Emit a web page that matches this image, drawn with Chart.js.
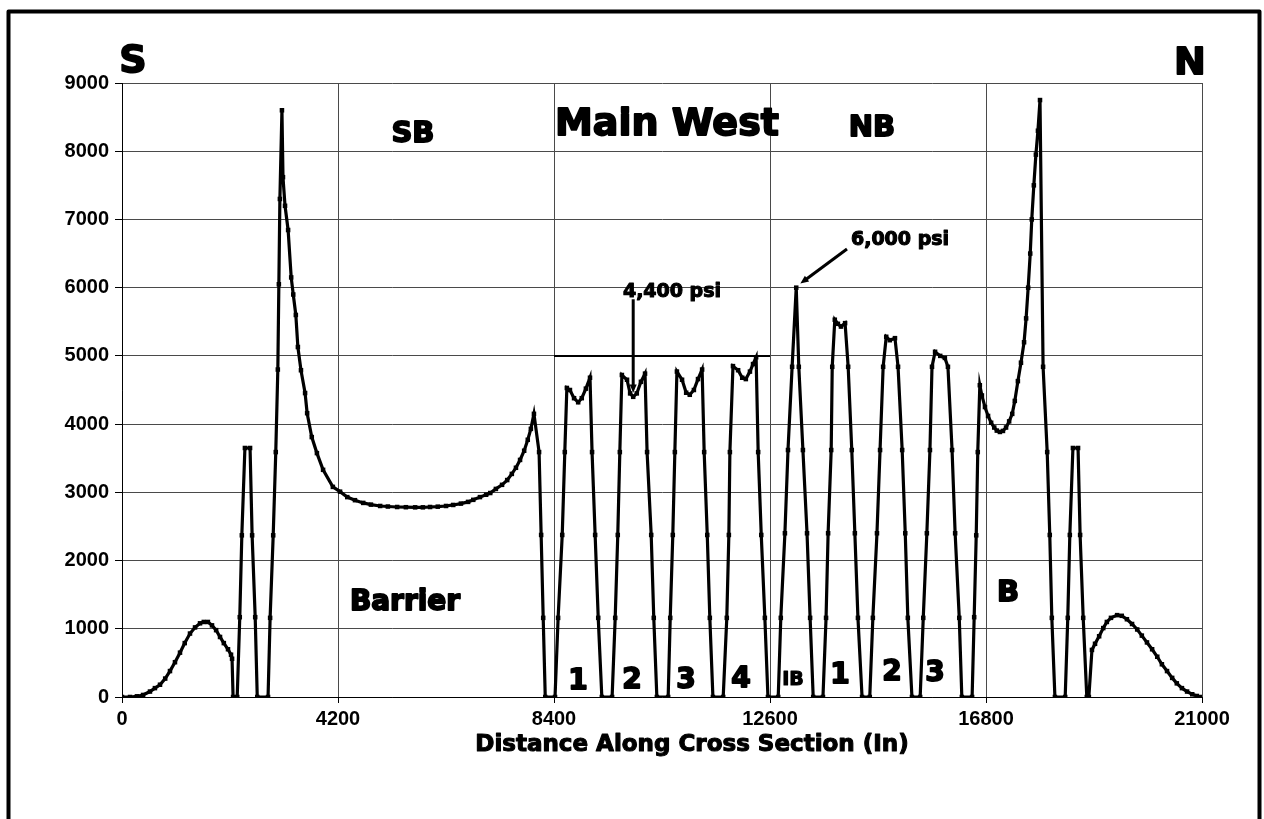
<!DOCTYPE html>
<html>
<head>
<meta charset="utf-8">
<script src="https://cdn.jsdelivr.net/npm/chart.js@4.4.1/dist/chart.umd.min.js"></script>
<style>
  html, body { margin: 0; padding: 0; background: #fff; }
  #wrap { width: 1264px; height: 819px; }
</style>
</head>
<body>
<div id="wrap"><canvas id="xs" width="1264" height="819"></canvas></div>
<script>
// distance along the cross section (ft) and vertical stress (psi)
const DIST = [
  0, 156, 290, 410, 544, 640, 739, 840, 933, 1030, 1128, 1220, 1322, 1420, 1517, 1590, 1670, 1750, 1830, 1906, 1980, 2061, 2120, 2140, 2160,
  2240, 2290, 2330, 2390, 2490, 2530, 2590, 2630,
  2840, 2880, 2940, 2990, 3030, 3050, 3070, 3110,
  3130, 3170, 3230, 3290, 3330, 3380, 3420, 3480, 3560, 3600, 3690, 3790, 3910, 4100, 4240, 4380, 4530, 4690, 4840, 5020, 5170,
  5350, 5520, 5700, 5850, 5990, 6140, 6300, 6440, 6590, 6730, 6830, 6960, 7080, 7160, 7270, 7390, 7490, 7580, 7660, 7740,
  7820, 7890, 7950, 8010, 8110, 8150, 8190, 8230, 8420,
  8480, 8560, 8610, 8650, 8710, 8790, 8870, 8940, 9020, 9100, 9140, 9200, 9260, 9330, 9530,
  9590, 9640, 9680, 9720, 9820, 9880, 9940, 10010, 10090, 10170, 10210, 10290, 10340, 10400, 10620,
  10660, 10710, 10750, 10790, 10890, 10970, 11040, 11120, 11200, 11280, 11320, 11380, 11430, 11490, 11690,
  11760, 11800, 11820, 11880, 11980, 12060, 12130, 12210, 12270, 12330, 12370, 12430, 12500, 12560, 12760,
  12810, 12890, 12950, 13030, 13110, 13160, 13240, 13320, 13380, 13440, 13630,
  13690, 13730, 13790, 13810, 13860, 13920, 13980, 14060, 14120, 14190, 14250, 14310, 14390, 14540,
  14600, 14680, 14740, 14800, 14860, 14930, 15030, 15090, 15170, 15230, 15280, 15360, 15520,
  15580, 15650, 15710, 15750, 15810, 15910, 16000, 16060, 16140, 16200, 16280, 16330, 16530,
  16570, 16610, 16640, 16680, 16720, 16780, 16840, 16900, 16960, 17010, 17070, 17130, 17190, 17250, 17310, 17360,
  17420, 17480, 17540, 17580, 17620, 17660, 17690, 17730, 17770, 17810, 17850,
  17910, 17990, 18040, 18080, 18140, 18340, 18390, 18430, 18490, 18590, 18630, 18690, 18760, 18800,
  18860, 18920, 19000, 19080, 19150, 19230, 19350, 19440, 19540, 19640, 19740, 19830, 19930, 20030, 20130, 20220,
  20320, 20420, 20510, 20610, 20710, 20810, 20900, 21000
];
const PSI = [
  0, 0, 10, 30, 80, 130, 180, 270, 380, 510, 650, 790, 930, 1020, 1080, 1100, 1100, 1050, 980, 880, 790, 700, 620, 560, 0,
  0, 1170, 2370, 3650, 3650, 2370, 1170, 0,
  0, 1160, 2370, 3590, 4800, 6050, 7300, 8600,
  7620, 7200, 6845, 6150, 5900, 5600, 5130, 4790, 4455, 4160, 3810, 3575, 3330, 3080, 3010, 2930, 2885, 2845, 2820, 2800, 2792,
  2785, 2782, 2780, 2780, 2785, 2790, 2800, 2815, 2835, 2860, 2890, 2930, 2965, 2990, 3050, 3110, 3180, 3270, 3360, 3475,
  3610, 3770, 3930, 4150, 3590, 2375, 1160, 0, 0,
  1160, 2375, 3590, 4530, 4500, 4380, 4320, 4380, 4520, 4680, 3590, 2375, 1160, 0, 0,
  1160, 2375, 3590, 4720, 4650, 4450, 4400, 4450, 4620, 4740, 3590, 2375, 1160, 0, 0,
  1160, 2375, 3590, 4770, 4650, 4460, 4430, 4500, 4660, 4800, 3590, 2375, 1160, 0, 0,
  1160, 2375, 3590, 4850, 4790, 4680, 4660, 4770, 4880, 4980, 3590, 2375, 1160, 0, 0,
  1160, 2400, 3620, 4840, 6000, 4840, 3620, 2400, 1160, 0, 0,
  1160, 2400, 3620, 4840, 5530, 5470, 5430, 5480, 4840, 3620, 2400, 1160, 0, 0,
  1160, 2400, 3620, 4840, 5280, 5230, 5260, 4840, 3620, 2400, 1160, 0, 0,
  1160, 2400, 3620, 4840, 5060, 5000, 4970, 4840, 3620, 2400, 1160, 0, 0,
  1170, 2370, 3590, 4570, 4420, 4250, 4120, 4020, 3950, 3905, 3885, 3900, 3950, 4040, 4150, 4340,
  4630, 4900, 5200, 5550, 6000, 6500, 7000, 7500, 7950, 8300, 8750,
  4840, 3590, 2375, 1160, 0, 0, 1160, 2375, 3650, 3650, 2375, 1160, 0, 0,
  690, 780, 890, 1010, 1100, 1160, 1200, 1190, 1140, 1070, 990, 900, 800, 700, 590, 480,
  380, 280, 200, 130, 80, 40, 15, 0
];

// reference line across the Main West panels
const REF_X = [8400, 12600];
const REF_Y = [5000, 5000];

const X_TICKS = [0, 4200, 8400, 12600, 16800, 21000];
const Y_MAX = 9000, Y_STEP = 1000;

const HEAVY = '"DejaVu Sans", "Liberation Sans", Arial, sans-serif';
const TICKFONT = { family: '"Liberation Sans", Arial, sans-serif', size: 20, weight: 'bold' };
const GRID = '#4a4a4a';

// text placed in data units: [text, x, y, size]
const LABELS = [
  ['S', 214, 9300, 38],
  ['N', 20767, 9280, 38],
  ['SB', 5658, 8240, 29],
  ['Main West', 10597, 8384, 38],
  ['NB', 14583, 8340, 29],
  ['Barrier', 5503, 1378, 28],
  ['B', 17228, 1524, 29],
  ['1', 8867, 220, 28],
  ['2', 9917, 235, 28],
  ['3', 10967, 235, 28],
  ['4', 12036, 250, 28],
  ['IB', 13047, 250, 19],
  ['1', 13961, 308, 28],
  ['2', 14972, 352, 28],
  ['3', 15808, 337, 28],
  ['4,400 psi', 10694, 5936, 19],
  ['6,000 psi', 15128, 6699, 19],
  ['Distance Along Cross Section (In)', 11083, -704, 23]
];
// pointers: from (x1,y1) to tip (x2,y2)
const ARROWS = [
  [9940, 5830, 9940, 4460],
  [14097, 6567, 13190, 6060]
];

function heavyText(c, txt, x, y, size) {
  c.font = `bold ${size}px ${HEAVY}`;
  c.textAlign = 'center';
  c.textBaseline = 'middle';
  c.fillStyle = '#000';
  c.strokeStyle = '#000';
  c.lineWidth = size > 24 ? 1.8 : 1.1;
  c.lineJoin = 'round';
  c.strokeText(txt, x, y);
  c.fillText(txt, x, y);
}

const decor = {
  id: 'decor',
  beforeDraw(ch) {
    const c = ch.ctx;
    c.save();
    c.fillStyle = '#fff';
    c.fillRect(0, 0, ch.width, ch.height);
    c.restore();
  },
  afterDraw(ch) {
    const c = ch.ctx, xs = ch.scales.x, ys = ch.scales.y;
    c.save();
    LABELS.forEach(([t, x, y, s]) => heavyText(c, t, xs.getPixelForValue(x), ys.getPixelForValue(y), s));

    ARROWS.forEach(([x1, y1, x2, y2]) => {
      const ax = xs.getPixelForValue(x1), ay = ys.getPixelForValue(y1);
      const bx = xs.getPixelForValue(x2), by = ys.getPixelForValue(y2);
      const ang = Math.atan2(by - ay, bx - ax);
      c.strokeStyle = '#000'; c.fillStyle = '#000';
      c.lineWidth = 3;
      c.beginPath(); c.moveTo(ax, ay);
      c.lineTo(bx - 6 * Math.cos(ang), by - 6 * Math.sin(ang)); c.stroke();
      c.beginPath();
      c.moveTo(bx, by);
      c.lineTo(bx - 9 * Math.cos(ang - 0.4), by - 9 * Math.sin(ang - 0.4));
      c.lineTo(bx - 9 * Math.cos(ang + 0.4), by - 9 * Math.sin(ang + 0.4));
      c.closePath(); c.fill();
    });

    // outer frame
    c.strokeStyle = '#000';
    c.lineWidth = 4;
    c.strokeRect(8.5, 11.5, 1251, 900);
    c.restore();
  }
};

const pts = DIST.map((d, i) => ({ x: d, y: PSI[i] }));
const ref = REF_X.map((d, i) => ({ x: d, y: REF_Y[i] }));

new Chart(document.getElementById('xs'), {
  type: 'line',
  plugins: [decor],
  data: {
    datasets: [
      {
        data: pts,
        borderColor: '#000', backgroundColor: '#000',
        borderWidth: 3.2, tension: 0,
        pointStyle: 'rect', pointRadius: 3.2, pointBorderWidth: 0,
        order: 1
      },
      {
        data: ref,
        borderColor: '#000', borderWidth: 2,
        pointRadius: 0, order: 2
      }
    ]
  },
  options: {
    responsive: false,
    animation: false,
    layout: { padding: { left: 0, right: 62, top: 83, bottom: 0 } },
    scales: {
      x: {
        type: 'linear', min: 0, max: 21000,
        afterBuildTicks: s => { s.ticks = X_TICKS.map(v => ({ value: v })); },
        afterFit: s => { s.height = 122; },
        ticks: { color: '#000', font: TICKFONT, padding: 4, maxRotation: 0, callback: v => String(v) },
        grid: { color: GRID, lineWidth: 1, tickLength: 6, tickColor: '#000' },
        border: { color: '#000', width: 1 }
      },
      y: {
        min: 0, max: Y_MAX,
        afterFit: s => { s.width = 122; },
        ticks: { stepSize: Y_STEP, color: '#000', font: TICKFONT, padding: 6, callback: v => String(v) },
        grid: { color: GRID, lineWidth: 1, tickLength: 7, tickColor: '#000' },
        border: { color: '#000', width: 1 }
      }
    },
    plugins: { legend: { display: false }, tooltip: { enabled: false } }
  }
});
</script>
</body>
</html>
